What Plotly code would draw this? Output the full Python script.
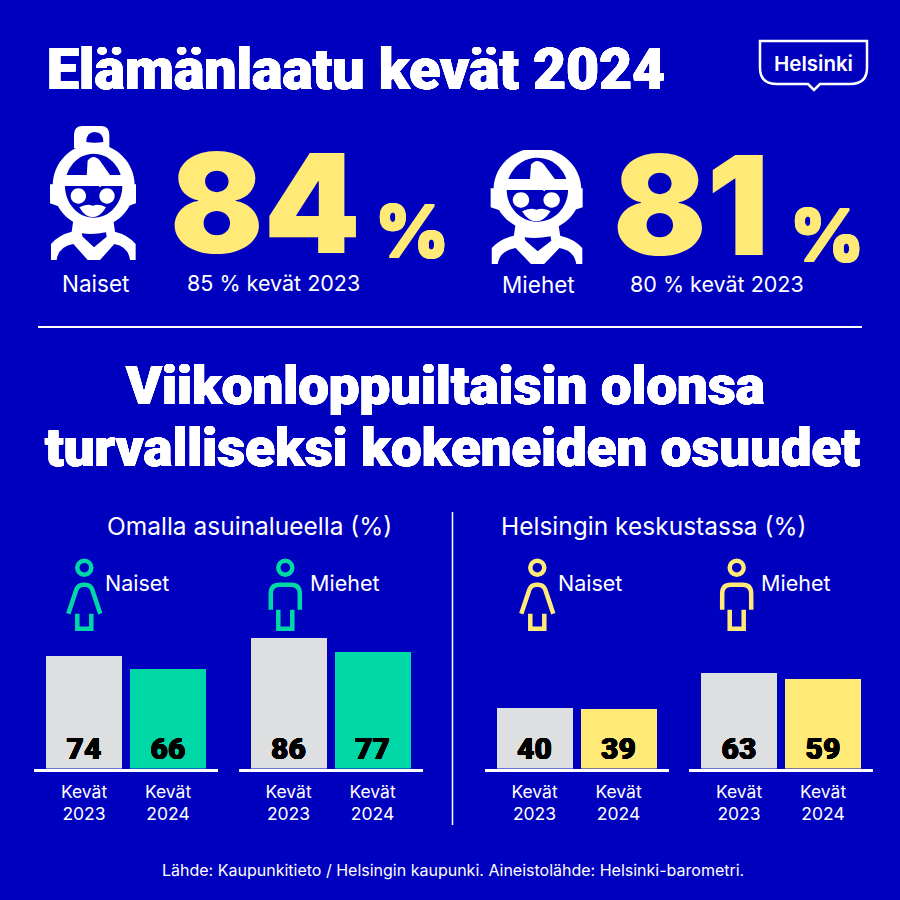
import re

import plotly.graph_objects as go

# data
periods = ["Kevät<br>2023", "Kevät<br>2024"]
asuinalue_naiset = [74, 66]
asuinalue_miehet = [86, 77]
keskusta_naiset = [40, 39]
keskusta_miehet = [63, 59]
laatu_naiset = 84
laatu_miehet = 81
laatu_naiset_2023 = 85
laatu_miehet_2023 = 80

BG = "#0000BF"
WHITE = "#FFFFFF"
YELLOW = "#FFE977"
GREEN = "#00D7A7"
GRAY = "#DEDFE1"
FONT = "Inter"
HEAVY = "Roboto"
W = H = 900

# x span of each panel in pixels, values and highlight colour
panels = [
    ((34, 218), asuinalue_naiset, GREEN),
    ((238.5, 422.5), asuinalue_miehet, GREEN),
    ((484.5, 668.5), keskusta_naiset, YELLOW),
    ((689, 873), keskusta_miehet, YELLOW),
]
BASE_Y = 768.5
PX_PER_UNIT = 1.515


def xp(x):
    return x / W


def yp(y):
    return 1 - y / H


def tr(path, ox, oy, sx=1 / 3, sy=1 / 3):
    # path numbers are x y pairs in local coords, map them to paper coords
    nums = iter(range(10**6))

    def sub(m):
        v = float(m.group())
        if next(nums) % 2 == 0:
            return f"{xp(ox + v * sx):.5f}"
        return f"{yp(oy + v * sy):.5f}"

    return re.sub(r"-?\d+\.?\d*", sub, path)


def fatten(color, r):
    # no text stroke in plotly, a ring of hard shadows makes the type heavier
    return ", ".join(f"{dx}px {dy}px 0 {color}" for dx, dy in
                     [(r, 0), (-r, 0), (0, r), (0, -r), (r, r), (-r, r), (r, -r), (-r, -r)])


shapes = []


def add_path(path, fill=None, line=None, lw=0):
    shapes.append(dict(
        type="path", path=path, xref="paper", yref="paper",
        fillcolor=fill or "rgba(0,0,0,0)",
        line=dict(color=line or "rgba(0,0,0,0)", width=lw),
    ))


def ellipse(cx, cy, rx, ry):
    k = 0.5523
    return (f"M {cx - rx} {cy} C {cx - rx} {cy - k * ry} {cx - k * rx} {cy - ry} {cx} {cy - ry} "
            f"C {cx + k * rx} {cy - ry} {cx + rx} {cy - k * ry} {cx + rx} {cy} "
            f"C {cx + rx} {cy + k * ry} {cx + k * rx} {cy + ry} {cx} {cy + ry} "
            f"C {cx - k * rx} {cy + ry} {cx - rx} {cy + k * ry} {cx - rx} {cy} Z")


def face_icon(ox, oy, sx, sy, bun):
    def p(d, fill):
        add_path(tr(d, ox, oy, sx, sy), fill=fill)

    if bun:
        p("M 87 85 L 87 45 Q 87 18 112 18 L 168 18 Q 193 18 193 45 L 193 85 Z", WHITE)
        p("M 124 66 Q 124 36 149 36 Q 175 36 175 66 Q 149 70 124 66 Z", BG)
    # shoulders and neck
    p("M 85 300 L 205 300 L 210 335 Q 250 345 272 372 L 272 420 L 18 420 L 18 372 Q 40 345 80 335 Z", WHITE)
    p(ellipse(146, 197, 123, 125), WHITE)
    p("M 15 193 L 273 193 L 273 250 L 250 258 L 38 258 L 15 250 Z", WHITE)
    p(ellipse(146, 197, 86, 96), BG)
    # band and hair
    p("M 55 165 L 235 165 L 235 198 L 55 198 Z", WHITE)
    p("M 125 168 L 128 122 Q 145 100 165 122 L 197 168 Z", WHITE)
    # eyes and moustache
    p(ellipse(100, 228, 23, 23), WHITE)
    p(ellipse(186, 228, 23, 23), WHITE)
    p("M 165 188 L 168 202 L 162 200 Z", WHITE)
    p("M 103 262 Q 125 250 143 257 Q 165 250 183 262 Q 165 292 143 292 Q 120 292 103 262 Z", WHITE)
    # collar and body cuts
    p("M 110 340 Q 145 345 183 337 L 185 350 L 147 382 L 113 350 Z", BG)
    p("M 35 420 Q 40 380 85 372 L 128 420 Z", BG)
    p("M 255 420 Q 250 380 208 372 L 165 420 Z", BG)


def person_icon(cx, cy, color, dress):
    def p(d, fill=None, line=None, lw=0):
        add_path(tr(d, cx, cy, 1, 1), fill=fill, line=line, lw=lw)

    p(ellipse(0, 0, 7, 7), line=color, lw=4.5)
    if dress:
        p("M -16 46 L -8 22 Q -6 17 -1 17 L 1 17 Q 6 17 8 22 L 16 46", line=color, lw=4.5)
        p("M -7 46 L -7 61 L 7 61 L 7 46", line=color, lw=4.5)
    else:
        p("M -14.5 42 L -14.5 26 Q -14.5 17 -6 17 L 6 17 Q 14.5 17 14.5 26 L 14.5 42", line=color, lw=4.5)
        p("M -7 42 L -7 61 L 7 61 L 7 42", line=color, lw=4.5)


annotations = []


def text(x, y, s, size, color=WHITE, weight=400, anchor="left", family=FONT, shadow="none"):
    annotations.append(dict(
        x=xp(x), y=yp(y), xref="paper", yref="paper", text=s, showarrow=False,
        xanchor=anchor, yanchor="middle",
        font=dict(family=family, size=size, color=color, weight=weight, shadow=shadow),
    ))


fig = go.Figure()
for n, ((x0, x1), values, color) in enumerate(panels, start=1):
    suffix = "" if n == 1 else str(n)
    fig.add_trace(go.Bar(
        x=periods, y=values, xaxis=f"x{suffix}", yaxis=f"y{suffix}",
        width=0.905, marker=dict(color=[GRAY, color], line_width=0),
        text=[str(v) for v in values], textposition="inside",
        insidetextanchor="start", textangle=0, constraintext="none",
        insidetextfont=dict(family=HEAVY, size=30, color="#000000", weight=900,
                            shadow=fatten("#000000", 0.25)),
        showlegend=False, hoverinfo="skip",
    ))
    fig.update_layout({
        f"xaxis{suffix}": dict(
            domain=[xp(x0), xp(x1)], anchor=f"y{suffix}", type="category",
            categoryorder="array", categoryarray=periods,
            range=[-0.595, 1.595], showline=True, linecolor=WHITE, linewidth=3,
            ticks="", showgrid=False, zeroline=False, ticklabelstandoff=5,
            tickfont=dict(family=FONT, size=17.5, color=WHITE),
        ),
        f"yaxis{suffix}": dict(
            domain=[yp(BASE_Y), yp(BASE_Y - 100 * PX_PER_UNIT)], anchor=f"x{suffix}",
            range=[0, 100], visible=False,
        ),
    })

# headline block
title_shadow = fatten(WHITE, 0.45)
text(45, 69, "Elämänlaatu kevät 2024", 57, weight=900, family=HEAVY, shadow=title_shadow)
text(265, 202, str(laatu_naiset), 138, YELLOW, 900, "center")
text(412, 231, "%", 72, YELLOW, 800, "center", shadow=fatten(YELLOW, 1))
text(95, 283, "Naiset", 22.5, anchor="center")
text(273, 283, f"{laatu_naiset_2023} % kevät 2023", 21.5, anchor="center")
text(691, 204, str(laatu_miehet), 138, YELLOW, 900, "center")
text(827, 234, "%", 72, YELLOW, 800, "center", shadow=fatten(YELLOW, 1))
text(538, 284, "Miehet", 22.5, anchor="center")
text(717, 284, f"{laatu_miehet_2023} % kevät 2023", 21.5, anchor="center")

# middle title
text(445, 385, "Viikonloppuiltaisin olonsa", 54.5, weight=900, anchor="center", family=HEAVY, shadow=title_shadow)
text(452, 447, "turvalliseksi kokeneiden osuudet", 54.5, weight=900, anchor="center", family=HEAVY, shadow=title_shadow)

text(249, 526, "Omalla asuinalueella (%)", 24.5, anchor="center")
text(653, 526, "Helsingin keskustassa (%)", 24.5, anchor="center")
text(103, 583, "Naiset", 21.5)
text(308, 583, "Miehet", 21.5)
text(556, 583, "Naiset", 21.5)
text(759, 583, "Miehet", 21.5)
text(453, 870, "Lähde: Kaupunkitieto / Helsingin kaupunki. Aineistolähde: Helsinki-barometri.", 16, anchor="center")
text(813.5, 63, "Helsinki", 20.5, weight=600, anchor="center")

# rules
add_path(f"M {xp(38)} {yp(327)} L {xp(862)} {yp(327)}", line=WHITE, lw=2)
add_path(f"M {xp(452.5)} {yp(512)} L {xp(452.5)} {yp(825)}", line=WHITE, lw=1.5)

# logo outline
add_path(tr("M 760 41 L 867 41 L 867 68 Q 867 84 850 84 L 820 84 L 814 90 L 808 84 L 777 84 Q 760 84 760 68 Z",
            0, 0, 1, 1), line=WHITE, lw=2.5)

face_icon(45, 120, 1 / 3, 1 / 3, True)
face_icon(485.3, 124, 1.07 / 3, 1 / 3, False)
add_path(tr("M 0 60 L 300 60 L 300 78 L 0 78 Z", 485.3, 124, 1.07 / 3, 1 / 3), fill=BG)

person_icon(84.3, 567.7, GREEN, True)
person_icon(285.3, 567.7, GREEN, False)
person_icon(537.3, 567.7, YELLOW, True)
person_icon(736.7, 567.7, YELLOW, False)

fig.update_layout(
    width=W, height=H, margin=dict(l=0, r=0, t=0, b=0),
    paper_bgcolor=BG, plot_bgcolor=BG, shapes=shapes, annotations=annotations,
    font=dict(family=FONT), bargap=0,
)
# the page's default body margin would otherwise leave a white frame
fig.write_html("out.html", config={"displayModeBar": False},
               post_script="document.body.style.margin = '0';")
